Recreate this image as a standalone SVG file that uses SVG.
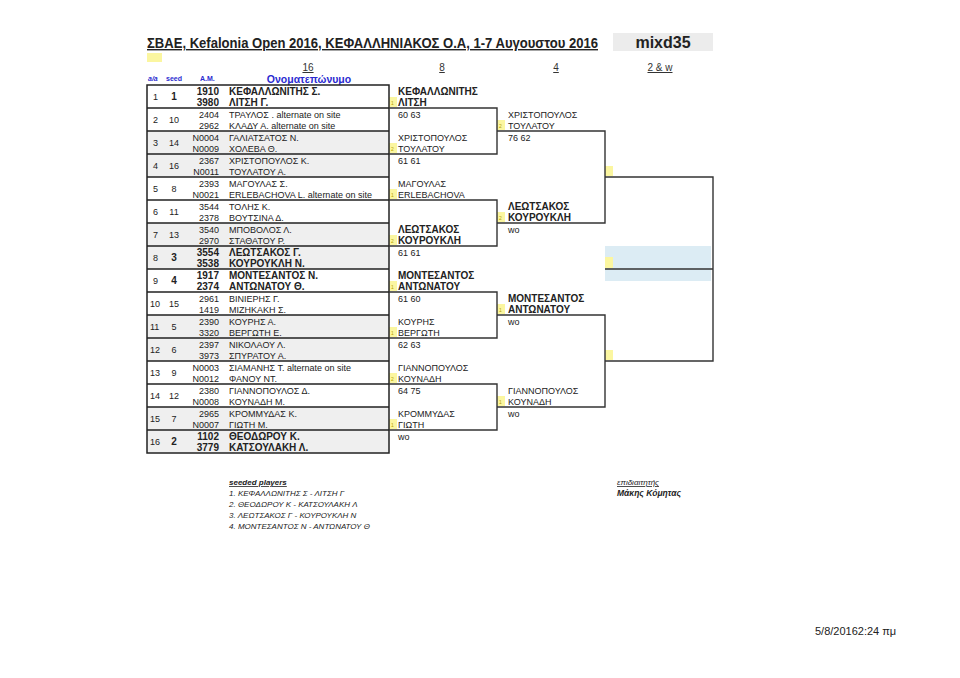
<svg xmlns="http://www.w3.org/2000/svg" width="960" height="678" viewBox="0 0 960 678">
<style>
text{font-family:"Liberation Sans",Arial,"Noto Sans",sans-serif;fill:#222}
.r{font-size:9px}
.b{font-size:10px;font-weight:bold}
.n{text-anchor:end}
.c{text-anchor:middle}
.hd{font-size:7px;font-weight:bold;fill:#2a2ad0}
.blue{fill:#2a2ad0}
.rnd{font-size:10px;fill:#333;text-decoration:underline;text-anchor:middle}
.ym{fill:#fbf6a0}
.yn{font-size:5px;fill:#b8a400}
.gr{fill:#efefef}
.bd{stroke:#222;stroke-width:1.5;fill:none}
.ln{stroke:#333;stroke-width:1.4;fill:none}
.ft{font-size:8px;font-style:italic}
</style>
<rect width="960" height="678" fill="#fff"/>
<g id="header">
<text x="147" y="48" font-size="14" font-weight="bold" text-decoration="underline" textLength="451" lengthAdjust="spacingAndGlyphs">ΣΒΑΕ, Kefalonia Open 2016, ΚΕΦΑΛΛΗΝΙΑΚΟΣ Ο.Α, 1-7 Αυγουστου 2016</text>
<rect x="613" y="33" width="100" height="18" fill="#ececec"/>
<text x="663" y="48" class="c" font-size="16" font-weight="bold">mixd35</text>
<rect x="147" y="53" width="15" height="9" class="ym"/>
<text x="308" y="71" class="rnd">16</text>
<text x="442" y="71" class="rnd">8</text>
<text x="556" y="71" class="rnd">4</text>
<text x="660" y="71" class="rnd">2 &amp; w</text>
<text x="148" y="81" class="hd" font-style="italic">a/a</text>
<text x="166" y="81" class="hd">seed</text>
<text x="200" y="81" class="hd">A.M.</text>
<text x="309" y="83" class="c blue" font-size="10.5" font-weight="bold">Ονοματεπώνυμο</text>
</g>
<g id="table-bg">
<rect x="147" y="131" width="242" height="46" class="gr"/>
<rect x="147" y="223" width="242" height="46" class="gr"/>
<rect x="147" y="315" width="242" height="46" class="gr"/>
<rect x="147" y="407" width="242" height="46" class="gr"/>
</g>
<g id="entries">
<g id="row1"><text x="153" y="100" class="r">1</text><text x="174" y="100" class="b c">1</text><text x="219" y="95" class="b n">1910</text><text x="229" y="95" class="b">ΚΕΦΑΛΛΩΝΙΤΗΣ Σ.</text><text x="219" y="106" class="b n">3980</text><text x="229" y="106" class="b">ΛΙΤΣΗ Γ.</text></g>
<g id="row2"><text x="153" y="123" class="r">2</text><text x="174" y="123" class="r c">10</text><text x="219" y="118" class="r n">2404</text><text x="229" y="118" class="r">ΤΡΑΥΛΟΣ . alternate on site</text><text x="219" y="129" class="r n">2962</text><text x="229" y="129" class="r">ΚΛΑΔΥ Α. alternate on site</text></g>
<g id="row3"><text x="153" y="146" class="r">3</text><text x="174" y="146" class="r c">14</text><text x="219" y="141" class="r n">N0004</text><text x="229" y="141" class="r">ΓΑΛΙΑΤΣΑΤΟΣ Ν.</text><text x="219" y="152" class="r n">N0009</text><text x="229" y="152" class="r">ΧΟΛΕΒΑ Θ.</text></g>
<g id="row4"><text x="153" y="169" class="r">4</text><text x="174" y="169" class="r c">16</text><text x="219" y="164" class="r n">2367</text><text x="229" y="164" class="r">ΧΡΙΣΤΟΠΟΥΛΟΣ Κ.</text><text x="219" y="175" class="r n">N0011</text><text x="229" y="175" class="r">ΤΟΥΛΑΤΟΥ Α.</text></g>
<g id="row5"><text x="153" y="192" class="r">5</text><text x="174" y="192" class="r c">8</text><text x="219" y="187" class="r n">2393</text><text x="229" y="187" class="r">ΜΑΓΟΥΛΑΣ Σ.</text><text x="219" y="198" class="r n">N0021</text><text x="229" y="198" class="r">ERLEBACHOVA L. alternate on site</text></g>
<g id="row6"><text x="153" y="215" class="r">6</text><text x="174" y="215" class="r c">11</text><text x="219" y="210" class="r n">3544</text><text x="229" y="210" class="r">ΤΟΛΗΣ Κ.</text><text x="219" y="221" class="r n">2378</text><text x="229" y="221" class="r">ΒΟΥΤΣΙΝΑ Δ.</text></g>
<g id="row7"><text x="153" y="238" class="r">7</text><text x="174" y="238" class="r c">13</text><text x="219" y="233" class="r n">3540</text><text x="229" y="233" class="r">ΜΠΟΒΟΛΟΣ Λ.</text><text x="219" y="244" class="r n">2970</text><text x="229" y="244" class="r">ΣΤΑΘΑΤΟΥ Ρ.</text></g>
<g id="row8"><text x="153" y="261" class="r">8</text><text x="174" y="261" class="b c">3</text><text x="219" y="256" class="b n">3554</text><text x="229" y="256" class="b">ΛΕΩΤΣΑΚΟΣ Γ.</text><text x="219" y="267" class="b n">3538</text><text x="229" y="267" class="b">ΚΟΥΡΟΥΚΛΗ Ν.</text></g>
<g id="row9"><text x="153" y="284" class="r">9</text><text x="174" y="284" class="b c">4</text><text x="219" y="279" class="b n">1917</text><text x="229" y="279" class="b">ΜΟΝΤΕΣΑΝΤΟΣ Ν.</text><text x="219" y="290" class="b n">2374</text><text x="229" y="290" class="b">ΑΝΤΩΝΑΤΟΥ Θ.</text></g>
<g id="row10"><text x="150" y="307" class="r">10</text><text x="174" y="307" class="r c">15</text><text x="219" y="302" class="r n">2961</text><text x="229" y="302" class="r">ΒΙΝΙΕΡΗΣ Γ.</text><text x="219" y="313" class="r n">1419</text><text x="229" y="313" class="r">ΜΙΖΗΚΑΚΗ Σ.</text></g>
<g id="row11"><text x="150" y="330" class="r">11</text><text x="174" y="330" class="r c">5</text><text x="219" y="325" class="r n">2390</text><text x="229" y="325" class="r">ΚΟΥΡΗΣ Α.</text><text x="219" y="336" class="r n">3320</text><text x="229" y="336" class="r">ΒΕΡΓΩΤΗ Ε.</text></g>
<g id="row12"><text x="150" y="353" class="r">12</text><text x="174" y="353" class="r c">6</text><text x="219" y="348" class="r n">2397</text><text x="229" y="348" class="r">ΝΙΚΟΛΑΟΥ Λ.</text><text x="219" y="359" class="r n">3973</text><text x="229" y="359" class="r">ΣΠΥΡΑΤΟΥ Α.</text></g>
<g id="row13"><text x="150" y="376" class="r">13</text><text x="174" y="376" class="r c">9</text><text x="219" y="371" class="r n">N0003</text><text x="229" y="371" class="r">ΣΙΑΜΑΝΗΣ Τ. alternate on site</text><text x="219" y="382" class="r n">N0012</text><text x="229" y="382" class="r">ΦΑΝΟΥ ΝΤ.</text></g>
<g id="row14"><text x="150" y="399" class="r">14</text><text x="174" y="399" class="r c">12</text><text x="219" y="394" class="r n">2380</text><text x="229" y="394" class="r">ΓΙΑΝΝΟΠΟΥΛΟΣ Δ.</text><text x="219" y="405" class="r n">N0008</text><text x="229" y="405" class="r">ΚΟΥΝΑΔΗ Μ.</text></g>
<g id="row15"><text x="150" y="422" class="r">15</text><text x="174" y="422" class="r c">7</text><text x="219" y="417" class="r n">2965</text><text x="229" y="417" class="r">ΚΡΟΜΜΥΔΑΣ Κ.</text><text x="219" y="428" class="r n">N0007</text><text x="229" y="428" class="r">ΓΙΩΤΗ Μ.</text></g>
<g id="row16"><text x="150" y="445" class="r">16</text><text x="174" y="445" class="b c">2</text><text x="219" y="440" class="b n">1102</text><text x="229" y="440" class="b">ΘΕΟΔΩΡΟΥ Κ.</text><text x="219" y="451" class="b n">3779</text><text x="229" y="451" class="b">ΚΑΤΣΟΥΛΑΚΗ Λ.</text></g>
</g>
<g id="marks">
<rect x="605" y="246" width="106" height="35" fill="#dcecf4"/>
<rect x="389" y="97" width="8" height="10" class="ym"/><text x="391" y="105" class="yn">1</text>
<rect x="389" y="143" width="8" height="10" class="ym"/><text x="391" y="151" class="yn">2</text>
<rect x="389" y="189" width="8" height="10" class="ym"/><text x="391" y="197" class="yn">1</text>
<rect x="389" y="235" width="8" height="10" class="ym"/><text x="391" y="243" class="yn">2</text>
<rect x="389" y="281" width="8" height="10" class="ym"/><text x="391" y="289" class="yn">1</text>
<rect x="389" y="327" width="8" height="10" class="ym"/><text x="391" y="335" class="yn">1</text>
<rect x="389" y="373" width="8" height="10" class="ym"/><text x="391" y="381" class="yn">2</text>
<rect x="389" y="419" width="8" height="10" class="ym"/><text x="391" y="427" class="yn">1</text>
<rect x="497" y="120" width="8" height="10" class="ym"/><text x="499" y="128" class="yn">2</text>
<rect x="497" y="212" width="8" height="10" class="ym"/><text x="499" y="220" class="yn">2</text>
<rect x="497" y="304" width="8" height="10" class="ym"/><text x="499" y="312" class="yn">1</text>
<rect x="497" y="396" width="8" height="10" class="ym"/><text x="499" y="404" class="yn">1</text>
<rect x="605" y="166" width="8" height="10" class="ym"/>
<rect x="605" y="257" width="8" height="11" class="ym"/>
<rect x="605" y="350" width="8" height="10" class="ym"/>
</g>
<g id="round8">
<g id="m1"><text x="398" y="95" class="b">ΚΕΦΑΛΛΩΝΙΤΗΣ</text><text x="398" y="106" class="b">ΛΙΤΣΗ</text><text x="398" y="118" class="r">60 63</text></g>
<g id="m2"><text x="398" y="141" class="r">ΧΡΙΣΤΟΠΟΥΛΟΣ</text><text x="398" y="152" class="r">ΤΟΥΛΑΤΟΥ</text><text x="398" y="164" class="r">61 61</text></g>
<g id="m3"><text x="398" y="187" class="r">ΜΑΓΟΥΛΑΣ</text><text x="398" y="198" class="r">ERLEBACHOVA</text></g>
<g id="m4"><text x="398" y="233" class="b">ΛΕΩΤΣΑΚΟΣ</text><text x="398" y="244" class="b">ΚΟΥΡΟΥΚΛΗ</text><text x="398" y="256" class="r">61 61</text></g>
<g id="m5"><text x="398" y="279" class="b">ΜΟΝΤΕΣΑΝΤΟΣ</text><text x="398" y="290" class="b">ΑΝΤΩΝΑΤΟΥ</text><text x="398" y="302" class="r">61 60</text></g>
<g id="m6"><text x="398" y="325" class="r">ΚΟΥΡΗΣ</text><text x="398" y="336" class="r">ΒΕΡΓΩΤΗ</text><text x="398" y="348" class="r">62 63</text></g>
<g id="m7"><text x="398" y="371" class="r">ΓΙΑΝΝΟΠΟΥΛΟΣ</text><text x="398" y="382" class="r">ΚΟΥΝΑΔΗ</text><text x="398" y="394" class="r">64 75</text></g>
<g id="m8"><text x="398" y="417" class="r">ΚΡΟΜΜΥΔΑΣ</text><text x="398" y="428" class="r">ΓΙΩΤΗ</text><text x="398" y="440" class="r">wo</text></g>
</g>
<g id="round4">
<g id="q1"><text x="508" y="118" class="r">ΧΡΙΣΤΟΠΟΥΛΟΣ</text><text x="508" y="129" class="r">ΤΟΥΛΑΤΟΥ</text><text x="508" y="141" class="r">76 62</text></g>
<g id="q2"><text x="508" y="210" class="b">ΛΕΩΤΣΑΚΟΣ</text><text x="508" y="221" class="b">ΚΟΥΡΟΥΚΛΗ</text><text x="508" y="233" class="r">wo</text></g>
<g id="q3"><text x="508" y="302" class="b">ΜΟΝΤΕΣΑΝΤΟΣ</text><text x="508" y="313" class="b">ΑΝΤΩΝΑΤΟΥ</text><text x="508" y="325" class="r">wo</text></g>
<g id="q4"><text x="508" y="394" class="r">ΓΙΑΝΝΟΠΟΥΛΟΣ</text><text x="508" y="405" class="r">ΚΟΥΝΑΔΗ</text><text x="508" y="417" class="r">wo</text></g>
</g>
<g id="connectors">
<rect x="147" y="85" width="242" height="368" class="bd"/>
<path class="bd" d="M147 108H389M147 131H389M147 154H389M147 177H389M147 200H389M147 223H389M147 246H389M147 269H389M147 292H389M147 315H389M147 338H389M147 361H389M147 384H389M147 407H389M147 430H389"/>
<path class="ln" d="M389 108H497V154H389M389 200H497V246H389M389 292H497V338H389M389 384H497V430H389"/>
<path class="ln" d="M497 131H605V223H497M497 315H605V407H497"/>
<path class="ln" d="M605 177H713V361H605M605 269H713"/>
</g>
<g id="footer">
<text x="229" y="485" class="ft" font-weight="bold" text-decoration="underline">seeded players</text>
<text x="229" y="496" class="ft">1. ΚΕΦΑΛΛΩΝΙΤΗΣ Σ - ΛΙΤΣΗ Γ</text>
<text x="229" y="507" class="ft">2. ΘΕΟΔΩΡΟΥ Κ - ΚΑΤΣΟΥΛΑΚΗ Λ</text>
<text x="229" y="518" class="ft">3. ΛΕΩΤΣΑΚΟΣ Γ - ΚΟΥΡΟΥΚΛΗ Ν</text>
<text x="229" y="529" class="ft">4. ΜΟΝΤΕΣΑΝΤΟΣ Ν - ΑΝΤΩΝΑΤΟΥ Θ</text>
<text x="617" y="485" class="ft" text-decoration="underline">επιδιαιτητής</text>
<text x="617" y="496" class="ft" font-weight="bold" style="font-size:8.5px">Μάκης Κόμητας</text>
<text x="815" y="635" font-size="11">5/8/20162:24 πμ</text>
</g>
</svg>
